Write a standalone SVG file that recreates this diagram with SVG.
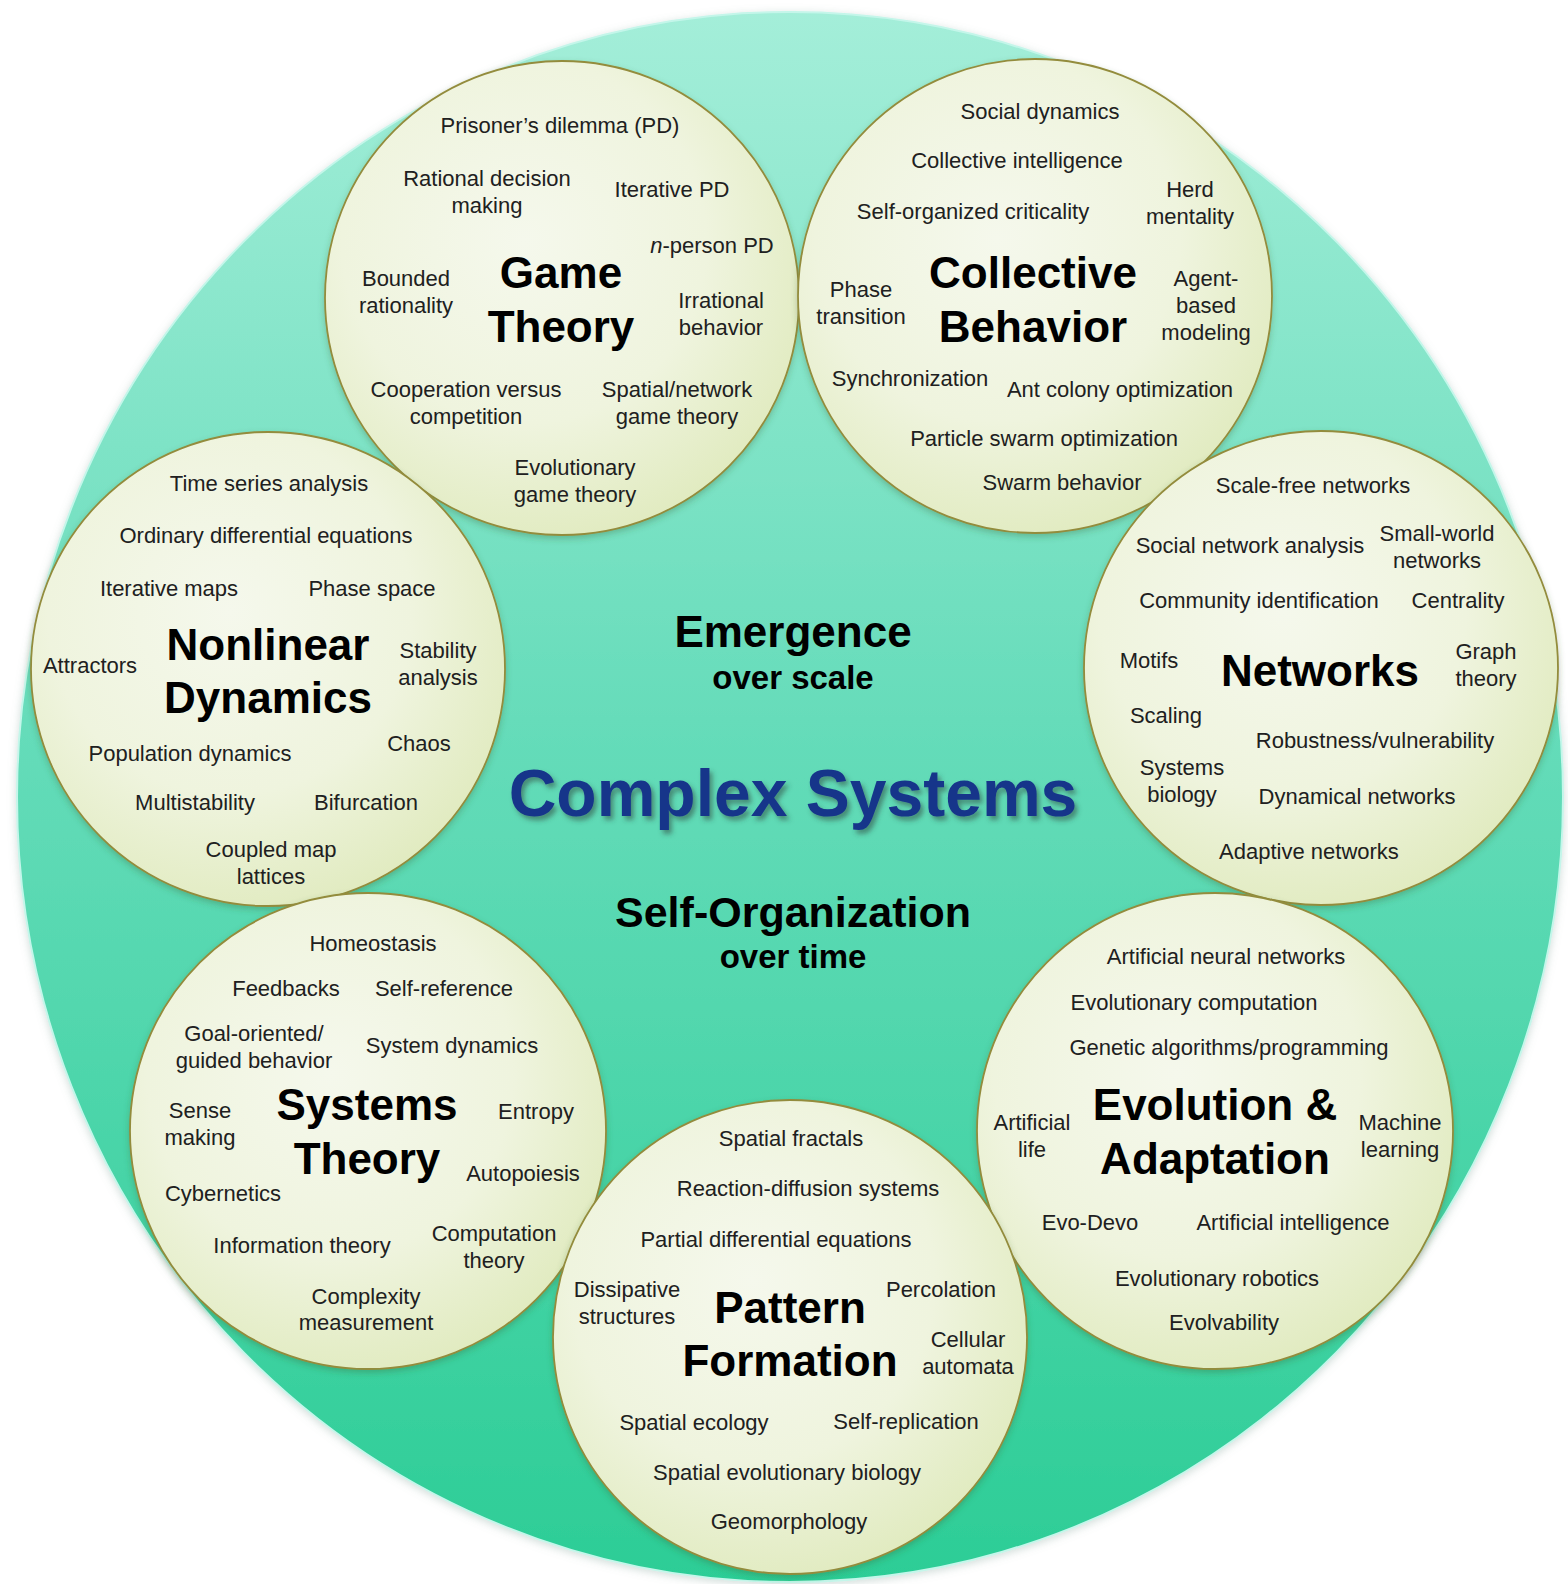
<svg xmlns="http://www.w3.org/2000/svg" width="1568" height="1584" viewBox="0 0 1568 1584">
<defs>
<linearGradient id="teal" x1="0" y1="0" x2="0" y2="1">
<stop offset="0" stop-color="#a4eed9"/>
<stop offset="0.45" stop-color="#66dcba"/>
<stop offset="1" stop-color="#2ccd96"/>
</linearGradient>
<radialGradient id="cream" cx="0.42" cy="0.38" r="0.7">
<stop offset="0" stop-color="#f5f8ec"/>
<stop offset="0.55" stop-color="#eff4de"/>
<stop offset="1" stop-color="#dee9ba"/>
</radialGradient>
<filter id="sh" x="-10%" y="-10%" width="125%" height="125%">
<feDropShadow dx="0" dy="3" stdDeviation="3" flood-color="#3a5a2a" flood-opacity="0.3"/>
</filter>
<filter id="bigsh" x="-5%" y="-5%" width="110%" height="110%">
<feDropShadow dx="0" dy="2" stdDeviation="4" flood-color="#7a9a90" flood-opacity="0.35"/>
</filter>
<filter id="tsh" x="-5%" y="-20%" width="115%" height="150%">
<feDropShadow dx="3" dy="4" stdDeviation="2.5" flood-color="#2d4a40" flood-opacity="0.55"/>
</filter>
</defs>
<style>
.c{fill:url(#cream);stroke:#938c3c;stroke-width:1.8;filter:url(#sh)}
.t{font-family:"Liberation Sans",Arial,sans-serif;font-size:22px;fill:#202020;text-anchor:middle}
.h{font-family:"Liberation Sans",Arial,sans-serif;font-size:44px;font-weight:bold;fill:#000;text-anchor:middle}
.m{font-family:"Liberation Sans",Arial,sans-serif;font-weight:bold;fill:#000;text-anchor:middle}
</style>
<rect width="1568" height="1584" fill="#ffffff"/>
<g id="background">
<ellipse cx="790" cy="797" rx="773" ry="785" fill="url(#teal)" stroke="#c4f6ea" stroke-width="2" filter="url(#bigsh)"/>
</g>
<g id="center-labels">
<text class="m" x="793" y="647" font-size="44">Emergence</text>
<text class="m" x="793" y="689" font-size="33">over scale</text>
<text class="m" x="793" y="816" font-size="66" style="fill:#15358a" filter="url(#tsh)">Complex Systems</text>
<text class="m" x="793" y="927" font-size="43">Self-Organization</text>
<text class="m" x="793" y="968" font-size="33">over time</text>
</g>
<g id="connectors"></g>
<g id="game-theory">
<circle class="c" cx="562" cy="298" r="237"/>
<text class="t" x="560" y="133">Prisoner’s dilemma (PD)</text>
<text class="t" x="487" y="186">Rational decision</text>
<text class="t" x="487" y="213">making</text>
<text class="t" x="672" y="197">Iterative PD</text>
<text class="t" x="712" y="253"><tspan font-style="italic">n</tspan>-person PD</text>
<text class="t" x="406" y="286">Bounded</text>
<text class="t" x="406" y="313">rationality</text>
<text class="h" x="561" y="288">Game</text>
<text class="h" x="561" y="342">Theory</text>
<text class="t" x="721" y="308">Irrational</text>
<text class="t" x="721" y="335">behavior</text>
<text class="t" x="466" y="397">Cooperation versus</text>
<text class="t" x="466" y="424">competition</text>
<text class="t" x="677" y="397">Spatial/network</text>
<text class="t" x="677" y="424">game theory</text>
<text class="t" x="575" y="475">Evolutionary</text>
<text class="t" x="575" y="502">game theory</text>
</g>
<g id="collective-behavior">
<circle class="c" cx="1035" cy="296" r="237"/>
<text class="t" x="1040" y="119">Social dynamics</text>
<text class="t" x="1017" y="168">Collective intelligence</text>
<text class="t" x="1190" y="197">Herd</text>
<text class="t" x="1190" y="224">mentality</text>
<text class="t" x="973" y="219">Self-organized criticality</text>
<text class="t" x="861" y="297">Phase</text>
<text class="t" x="861" y="324">transition</text>
<text class="h" x="1033" y="288">Collective</text>
<text class="h" x="1033" y="342">Behavior</text>
<text class="t" x="1206" y="286">Agent-</text>
<text class="t" x="1206" y="313">based</text>
<text class="t" x="1206" y="340">modeling</text>
<text class="t" x="910" y="386">Synchronization</text>
<text class="t" x="1120" y="397">Ant colony optimization</text>
<text class="t" x="1044" y="446">Particle swarm optimization</text>
<text class="t" x="1062" y="490">Swarm behavior</text>
</g>
<g id="networks">
<circle class="c" cx="1321" cy="668" r="237"/>
<text class="t" x="1313" y="493">Scale-free networks</text>
<text class="t" x="1250" y="553">Social network analysis</text>
<text class="t" x="1437" y="541">Small-world</text>
<text class="t" x="1437" y="568">networks</text>
<text class="t" x="1259" y="608">Community identification</text>
<text class="t" x="1458" y="608">Centrality</text>
<text class="t" x="1149" y="668">Motifs</text>
<text class="h" x="1320" y="686">Networks</text>
<text class="t" x="1486" y="659">Graph</text>
<text class="t" x="1486" y="686">theory</text>
<text class="t" x="1166" y="723">Scaling</text>
<text class="t" x="1375" y="748">Robustness/vulnerability</text>
<text class="t" x="1182" y="775">Systems</text>
<text class="t" x="1182" y="802">biology</text>
<text class="t" x="1357" y="804">Dynamical networks</text>
<text class="t" x="1309" y="859">Adaptive networks</text>
</g>
<g id="nonlinear-dynamics">
<circle class="c" cx="268" cy="669" r="237"/>
<text class="t" x="269" y="491">Time series analysis</text>
<text class="t" x="266" y="543">Ordinary differential equations</text>
<text class="t" x="169" y="596">Iterative maps</text>
<text class="t" x="372" y="596">Phase space</text>
<text class="t" x="90" y="673">Attractors</text>
<text class="h" x="268" y="660">Nonlinear</text>
<text class="h" x="268" y="713">Dynamics</text>
<text class="t" x="438" y="658">Stability</text>
<text class="t" x="438" y="685">analysis</text>
<text class="t" x="190" y="761">Population dynamics</text>
<text class="t" x="419" y="751">Chaos</text>
<text class="t" x="195" y="810">Multistability</text>
<text class="t" x="366" y="810">Bifurcation</text>
<text class="t" x="271" y="857">Coupled map</text>
<text class="t" x="271" y="884">lattices</text>
</g>
<g id="systems-theory">
<circle class="c" cx="368" cy="1131" r="238"/>
<text class="t" x="373" y="951">Homeostasis</text>
<text class="t" x="286" y="996">Feedbacks</text>
<text class="t" x="444" y="996">Self-reference</text>
<text class="t" x="254" y="1041">Goal-oriented/</text>
<text class="t" x="254" y="1068">guided behavior</text>
<text class="t" x="452" y="1053">System dynamics</text>
<text class="t" x="200" y="1118">Sense</text>
<text class="t" x="200" y="1145">making</text>
<text class="h" x="367" y="1120">Systems</text>
<text class="h" x="367" y="1174">Theory</text>
<text class="t" x="536" y="1119">Entropy</text>
<text class="t" x="523" y="1181">Autopoiesis</text>
<text class="t" x="223" y="1201">Cybernetics</text>
<text class="t" x="302" y="1253">Information theory</text>
<text class="t" x="494" y="1241">Computation</text>
<text class="t" x="494" y="1268">theory</text>
<text class="t" x="366" y="1304">Complexity</text>
<text class="t" x="366" y="1330">measurement</text>
</g>
<g id="evolution-adaptation">
<circle class="c" cx="1215" cy="1131" r="238"/>
<text class="t" x="1226" y="964">Artificial neural networks</text>
<text class="t" x="1194" y="1010">Evolutionary computation</text>
<text class="t" x="1229" y="1055">Genetic algorithms/programming</text>
<text class="t" x="1032" y="1130">Artificial</text>
<text class="t" x="1032" y="1157">life</text>
<text class="h" x="1215" y="1120">Evolution &amp;</text>
<text class="h" x="1215" y="1174">Adaptation</text>
<text class="t" x="1400" y="1130">Machine</text>
<text class="t" x="1400" y="1157">learning</text>
<text class="t" x="1090" y="1230">Evo-Devo</text>
<text class="t" x="1293" y="1230">Artificial intelligence</text>
<text class="t" x="1217" y="1286">Evolutionary robotics</text>
<text class="t" x="1224" y="1330">Evolvability</text>
</g>
<g id="pattern-formation">
<circle class="c" cx="790" cy="1337" r="237"/>
<text class="t" x="791" y="1146">Spatial fractals</text>
<text class="t" x="808" y="1196">Reaction-diffusion systems</text>
<text class="t" x="776" y="1247">Partial differential equations</text>
<text class="t" x="627" y="1297">Dissipative</text>
<text class="t" x="627" y="1324">structures</text>
<text class="h" x="790" y="1323">Pattern</text>
<text class="h" x="790" y="1376">Formation</text>
<text class="t" x="941" y="1297">Percolation</text>
<text class="t" x="968" y="1347">Cellular</text>
<text class="t" x="968" y="1374">automata</text>
<text class="t" x="694" y="1430">Spatial ecology</text>
<text class="t" x="906" y="1429">Self-replication</text>
<text class="t" x="787" y="1480">Spatial evolutionary biology</text>
<text class="t" x="789" y="1529">Geomorphology</text>
</g>
</svg>
